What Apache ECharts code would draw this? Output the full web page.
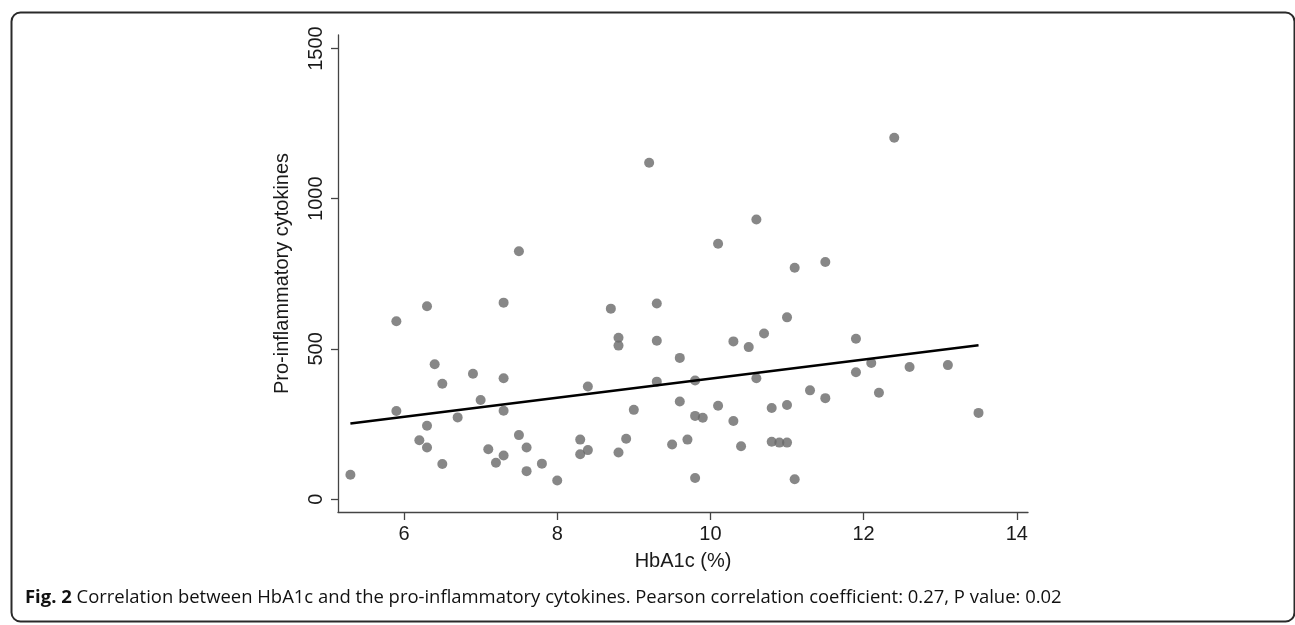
<!DOCTYPE html>
<html>
<head>
<meta charset="utf-8">
<script src="https://cdn.jsdelivr.net/npm/echarts@6/dist/echarts.min.js"></script>
<style>
html,body{margin:0;padding:0;background:#fff;}
#c{width:1295px;height:625px;}
</style>
</head>
<body>
<div id="c"></div>
<script>
// HbA1c (%) values
const hba1c = [5.3,5.9,5.9,6.3,6.4,6.5,6.3,6.2,6.3,6.5,6.7,6.9,7.0,7.3,7.3,7.3,7.3,7.1,7.2,7.5,7.5,7.6,7.6,7.8,8.0,8.3,8.3,8.4,8.4,8.7,8.8,8.8,8.8,8.9,9.0,9.3,9.3,9.3,9.2,12.4,10.6,10.1,11.1,11.5,9.6,9.8,9.6,9.8,9.9,10.1,9.5,9.7,9.8,10.3,10.5,10.7,11.0,10.3,10.4,10.6,10.8,11.0,10.8,10.9,11.0,11.1,11.3,11.5,11.9,11.9,12.1,12.2,12.6,13.1,13.5];
// Pro-inflammatory cytokines values
const cytokines = [81,592,293,642,449,384,244,196,172,117,272,417,330,654,402,294,145,166,121,825,213,172,93,118,62,198,149,163,375,634,537,511,155,201,297,651,527,391,1120,1203,931,850,770,789,470,395,325,277,271,311,182,198,70,525,506,551,605,260,176,402,303,313,191,188,188,66,362,336,534,422,453,354,440,446,287];
// fitted line end points
const fitX = [5.3, 13.5];
const fitY = [252, 512];
const xTicks = [6, 8, 10, 12, 14];
const yTicks = [0, 500, 1000, 1500];
const xTitle = 'HbA1c (%)';
const yTitle = 'Pro-inflammatory cytokines';
const captionBold = 'Fig. 2';
const captionText = ' Correlation between HbA1c and the pro-inflammatory cytokines. Pearson correlation coefficient: 0.27, P value: 0.02';

const points = hba1c.map((x, i) => [x, cytokines[i]]);
const fitLine = fitX.map((x, i) => [x, fitY[i]]);

// fit caption font size to target width
const capFont = '"Open Sans", sans-serif';
const cv = document.createElement('canvas').getContext('2d');
function capWidth(sz){
  cv.font = 'bold ' + sz + 'px ' + capFont;
  let w = cv.measureText(captionBold).width;
  cv.font = sz + 'px ' + capFont;
  return w + cv.measureText(captionText).width;
}
const targetW = 1037;
const capSize = Math.max(12, Math.min(20, 18 * targetW / capWidth(18)));

const chart = echarts.init(document.getElementById('c'), null, {renderer: 'canvas'});
const axisColor = '#444';
const textColor = '#1a1a1a';
const font = '"Liberation Sans", Arial, sans-serif';
chart.setOption({
  animation: false,
  backgroundColor: '#fff',
  grid: {left: 338, right: 267, top: 35, bottom: 113, containLabel: false},
  xAxis: {
    type: 'value', min: 5.138, max: 14.146,
    name: xTitle, nameLocation: 'middle', nameGap: 39,
    nameTextStyle: {fontFamily: font, fontSize: 20, color: textColor},
    axisLine: {show: true, onZero: false, lineStyle: {color: axisColor, width: 1.3}},
    axisTick: {show: true, length: 8, lineStyle: {color: axisColor, width: 1.3}, customValues: xTicks},
    axisLabel: {fontFamily: font, fontSize: 20, color: textColor, margin: 12, customValues: xTicks,
      formatter: v => String(v)},
    splitLine: {show: false}
  },
  yAxis: {
    type: 'value', min: -43, max: 1545,
    name: yTitle, nameLocation: 'middle', nameGap: 46, nameRotate: 90,
    nameTextStyle: {fontFamily: font, fontSize: 20, color: textColor},
    axisLine: {show: true, onZero: false, lineStyle: {color: axisColor, width: 1.3}},
    axisTick: {show: true, length: 7, lineStyle: {color: axisColor, width: 1.3}, customValues: yTicks},
    axisLabel: {fontFamily: font, fontSize: 20, color: textColor, margin: 12, rotate: 90, customValues: yTicks,
      formatter: v => String(v)},
    splitLine: {show: false}
  },
  series: [
    {
      type: 'scatter', data: points, symbol: 'circle', symbolSize: 10,
      itemStyle: {color: '#696969'}, z: 2
    },
    {
      type: 'line', data: fitLine, showSymbol: false, symbol: 'none',
      lineStyle: {color: '#000', width: 2.5}, z: 3
    }
  ],
  graphic: [
    {
      type: 'rect', left: 9, top: 10, silent: true,
      shape: {width: 1283, height: 609, r: 9},
      style: {fill: 'none', stroke: '#2a2a2a', lineWidth: 2}
    },
    {
      type: 'text', left: 25, top: 589, silent: true,
      style: {
        text: '{b|' + captionBold + '}{r|' + captionText + '}',
        rich: {
          b: {fontFamily: capFont, fontWeight: 'bold', fontSize: capSize, fill: '#111'},
          r: {fontFamily: capFont, fontSize: capSize, fill: '#111'}
        }
      }
    }
  ]
});
</script>
</body>
</html>
